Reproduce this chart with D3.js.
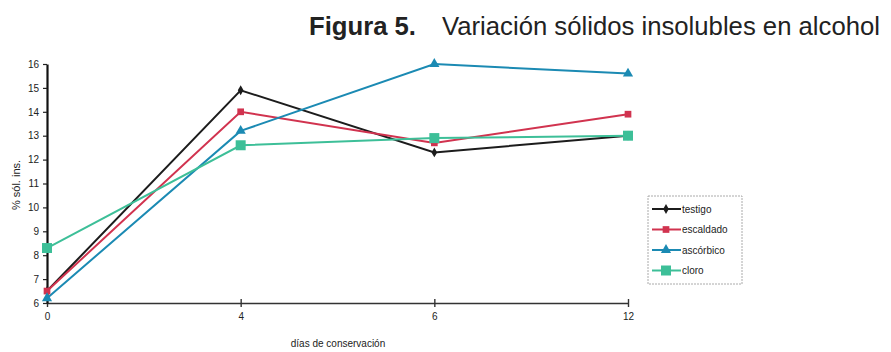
<!DOCTYPE html>
<html>
<head>
<meta charset="utf-8">
<script src="https://cdn.jsdelivr.net/npm/d3@7"></script>
<style>
  html, body { margin: 0; padding: 0; background: #fff; }
  svg { display: block; font-family: "Liberation Sans", Arial, sans-serif; }
</style>
</head>
<body>
<svg id="chart" width="891" height="352"></svg>
<script>
// Días de conservación (categorías del eje X)
const days = ["0", "4", "6", "12"];
const yTicks = [6, 7, 8, 9, 10, 11, 12, 13, 14, 15, 16];

// % sólidos insolubles en alcohol por tratamiento
const testigo   = [6.5, 14.9, 12.3, 13.0];
const escaldado = [6.5, 14.0, 12.7, 13.9];
const ascorbico = [6.2, 13.2, 16.0, 15.6];
const cloro     = [8.3, 12.6, 12.9, 13.0];

const seriesNames = ["testigo", "escaldado", "ascórbico", "cloro"];

const series = [
  { name: seriesNames[0], values: testigo,   color: "#1c1c1c", symbol: d3.symbolDiamond,  size: 28 },
  { name: seriesNames[1], values: escaldado, color: "#d1334f", symbol: d3.symbolSquare,   size: 45 },
  { name: seriesNames[2], values: ascorbico, color: "#1b8ab3", symbol: d3.symbolTriangle, size: 45 },
  { name: seriesNames[3], values: cloro,     color: "#3dbf98", symbol: d3.symbolSquare,   size: 100 }
];

const svg = d3.select("#chart");

const x = d3.scalePoint().domain(days).range([47, 628]);
const y = d3.scaleLinear().domain([6, 16]).range([303, 64]);

// Título
const title = svg.append("g").attr("font-size", 25).attr("fill", "#222");
title.append("text").attr("x", 309).attr("y", 35)
  .attr("font-weight", "bold")
  .attr("textLength", 107).attr("lengthAdjust", "spacingAndGlyphs")
  .text("Figura 5.");
title.append("text").attr("x", 442).attr("y", 35)
  .attr("textLength", 438).attr("lengthAdjust", "spacingAndGlyphs")
  .text("Variación sólidos insolubles en alcohol");

// Eje X
const xAxis = svg.append("g").attr("transform", "translate(0,303)")
  .call(d3.axisBottom(x).tickSize(0).tickPadding(10));
xAxis.select(".domain").attr("stroke", "#333").attr("stroke-width", 1.6);
xAxis.selectAll(".tick").append("line")
  .attr("y1", -4).attr("y2", 4).attr("stroke", "#333").attr("stroke-width", 1.4);
xAxis.selectAll(".tick text").attr("font-size", 10).attr("fill", "#222")
  .attr("font-family", "Liberation Sans, Arial, sans-serif");

// Eje Y
const yAxis = svg.append("g").attr("transform", "translate(47,0)")
  .call(d3.axisLeft(y).tickValues(yTicks).tickSize(4).tickPadding(4).tickSizeOuter(0));
yAxis.select(".domain").attr("stroke", "#111").attr("stroke-width", 2.2);
yAxis.selectAll(".tick line").attr("stroke", "#222").attr("stroke-width", 1.2);
yAxis.selectAll(".tick text").attr("font-size", 10).attr("fill", "#222")
  .attr("font-family", "Liberation Sans, Arial, sans-serif");

// Títulos de ejes
svg.append("text").attr("transform", "translate(20,185) rotate(-90)")
  .attr("text-anchor", "middle").attr("font-size", 11).attr("fill", "#222")
  .text("% sól. ins.");
svg.append("text").attr("x", 338).attr("y", 347)
  .attr("text-anchor", "middle").attr("font-size", 10).attr("fill", "#222")
  .text("días de conservación");

// Series
const line = d3.line().x((d, i) => x(days[i])).y(d => y(d));
const g = svg.append("g");
series.forEach(s => {
  g.append("path").datum(s.values)
    .attr("d", line).attr("fill", "none")
    .attr("stroke", s.color).attr("stroke-width", 2);
});
series.forEach(s => {
  g.selectAll(null).data(s.values).join("path")
    .attr("transform", (d, i) => `translate(${x(days[i])},${y(d)})`)
    .attr("d", d3.symbol().type(s.symbol).size(s.size))
    .attr("fill", s.color);
});

// Leyenda
const legend = svg.append("g").attr("transform", "translate(648,196)");
legend.append("rect").attr("width", 94).attr("height", 88)
  .attr("fill", "#fff").attr("stroke", "#aaa").attr("stroke-width", 1)
  .attr("stroke-dasharray", "2,1");
series.forEach((s, i) => {
  const row = legend.append("g").attr("transform", `translate(0,${13 + i * 20.5})`);
  row.append("line").attr("x1", 4).attr("x2", 33)
    .attr("stroke", s.color).attr("stroke-width", 2);
  row.append("path").attr("transform", "translate(18,0)")
    .attr("d", d3.symbol().type(s.symbol).size(s.size)).attr("fill", s.color);
  row.append("text").attr("x", 34).attr("y", 3.5)
    .attr("font-size", 10).attr("fill", "#222").text(s.name);
});
</script>
</body>
</html>
